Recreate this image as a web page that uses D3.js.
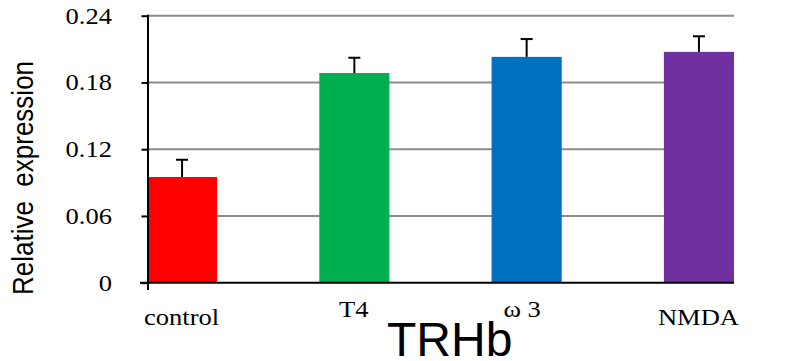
<!DOCTYPE html>
<html>
<head>
<meta charset="utf-8">
<script src="https://cdn.jsdelivr.net/npm/d3@7"></script>
<style>
  html, body { margin: 0; padding: 0; background: #fff; }
  svg { display: block; }
  text { white-space: pre; }
</style>
</head>
<body>
<svg id="chart" width="787" height="361"></svg>
<script>
// Relative expression of TRHb per treatment group
const categories = ["control", "T4", "ω 3", "NMDA"];
const values = [0.095, 0.1885, 0.203, 0.2075];
const errors = [0.0155, 0.0137, 0.016, 0.014];
const barColors = ["#FF0000", "#00B050", "#0070C0", "#7030A0"];
const yTicks = [0, 0.06, 0.12, 0.18, 0.24];
const yTickLabels = ["0", "0.06", "0.12", "0.18", "0.24"];
const title = "TRHb";
const yTitle = "Relative  expression";

const svg = d3.select("#chart");
const serif = "'Liberation Serif', 'Times New Roman', serif";
const sans = "'Liberation Sans', Arial, sans-serif";
const stretch = 1.13; // horizontal stretch applied to axis text

const x = d3.scaleBand()
  .domain(categories)
  .range([147, 734])
  .paddingInner(0.593)
  .paddingOuter(0);

const y = d3.scaleLinear()
  .domain([0, 0.24])
  .range([282.7, 15.7]);

const axisX = 148;

// horizontal gridlines (behind bars)
svg.append("g")
  .selectAll("line")
  .data(yTicks.filter(d => d > 0))
  .join("line")
  .attr("x1", axisX)
  .attr("x2", 734)
  .attr("y1", d => y(d))
  .attr("y2", d => y(d))
  .attr("stroke", "#8c8c8c")
  .attr("stroke-width", 2);

// bars
svg.append("g")
  .selectAll("rect")
  .data(categories)
  .join("rect")
  .attr("x", d => x(d))
  .attr("width", x.bandwidth())
  .attr("y", (d, i) => y(values[i]))
  .attr("height", (d, i) => y(0) - y(values[i]))
  .attr("fill", (d, i) => barColors[i]);

// upper error bars
const err = svg.append("g").attr("stroke", "#000").attr("stroke-width", 2);
categories.forEach((c, i) => {
  const cx = x(c) + x.bandwidth() / 2;
  err.append("line")
    .attr("x1", cx).attr("x2", cx)
    .attr("y1", y(values[i])).attr("y2", y(values[i] + errors[i]));
  err.append("line")
    .attr("x1", cx - 6).attr("x2", cx + 6)
    .attr("y1", y(values[i] + errors[i])).attr("y2", y(values[i] + errors[i]));
});

// y axis with left ticks
const yAxis = d3.axisLeft(y)
  .tickValues(yTicks)
  .tickSize(6.5)
  .tickPadding(0)
  .tickFormat("");
const gy = svg.append("g")
  .attr("transform", `translate(${axisX},0)`)
  .call(yAxis);
gy.select(".domain").remove();
gy.selectAll(".tick line").attr("stroke", "#000").attr("stroke-width", 2);
gy.append("line")
  .attr("x1", 0).attr("x2", 0)
  .attr("y1", y(0.24) - 1).attr("y2", 290)
  .attr("stroke", "#000").attr("stroke-width", 2);

// y tick labels
svg.append("g")
  .selectAll("text")
  .data(yTicks)
  .join("text")
  .attr("transform", d => `translate(112,${y(d) + 8}) scale(${stretch},1)`)
  .attr("text-anchor", "end")
  .attr("font-family", serif)
  .attr("font-size", 23.5)
  .attr("fill", "#000")
  .text((d, i) => yTickLabels[i]);

// x axis baseline
svg.append("line")
  .attr("x1", 140).attr("x2", 734)
  .attr("y1", y(0)).attr("y2", y(0))
  .attr("stroke", "#000").attr("stroke-width", 2);

// category labels (the two middle ones sit slightly higher)
const raised = new Set(["T4", "ω 3"]);
svg.append("g")
  .selectAll("text")
  .data(categories)
  .join("text")
  .attr("transform", d => {
    const cx = x(d) + x.bandwidth() / 2 + (d === "ω 3" ? -4.5 : -0.5);
    const by = raised.has(d) ? 317 : 325;
    return `translate(${cx},${by}) scale(${stretch},1)`;
  })
  .attr("text-anchor", "middle")
  .attr("font-family", serif)
  .attr("font-size", 23.5)
  .attr("fill", "#000")
  .text(d => d);

// y axis title
svg.append("text")
  .attr("transform", `translate(33,295) rotate(-90) scale(1,${stretch})`)
  .attr("text-anchor", "start")
  .attr("font-family", sans)
  .attr("font-size", 26)
  .attr("fill", "#000")
  .attr("xml:space", "preserve")
  .text(yTitle);

// chart title
svg.append("text")
  .attr("x", 387)
  .attr("y", 356)
  .attr("font-family", sans)
  .attr("font-size", 48)
  .attr("fill", "#000")
  .text(title);
</script>
</body>
</html>
